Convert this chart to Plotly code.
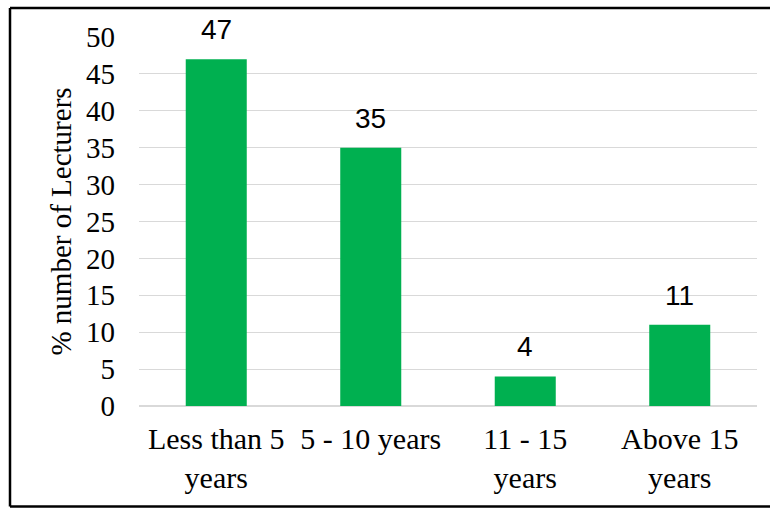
import plotly.graph_objects as go

categories = ["Less than 5<br>years", "5 - 10 years", "11 - 15<br>years", "Above 15<br>years"]
values = [47, 35, 4, 11]
y_ticks = [0, 5, 10, 15, 20, 25, 30, 35, 40, 45, 50]

W, H = 770, 508
ml, mr, mt, mb = 139, 13, 37, 102
pw, ph = W - ml - mr, H - mt - mb

fig = go.Figure()
fig.add_trace(go.Bar(x=categories, y=values, marker=dict(color="#00B050", line=dict(width=0)),
                     hoverinfo="skip"))

for c, v in zip(categories, values):
    fig.add_annotation(x=c, y=v, text=str(v), showarrow=False, yanchor="bottom",
                       yshift=12, font=dict(family="Liberation Sans Narrow, Arial Narrow, sans-serif",
                                            size=28, color="#000000"))

def px_x(p):
    return (p - ml) / pw

def px_y(p):
    return 1 - (p - mt) / ph

border = dict(color="#000000", width=2.5)
L, R, T, B = px_x(10), px_x(790), px_y(8), px_y(506.5)
for x0, y0, x1, y1 in [(L, T, R, T), (L, T, L, B), (L, B, R, B)]:
    fig.add_shape(type="line", xref="paper", yref="paper", x0=x0, y0=y0, x1=x1, y1=y1,
                  line=border, layer="above")

fig.update_layout(
    width=W, height=H,
    margin=dict(l=ml, r=mr, t=mt, b=mb),
    paper_bgcolor="white", plot_bgcolor="white",
    bargap=0.605,
    showlegend=False,
    font=dict(family="Liberation Serif, Times New Roman, serif", size=30, color="#000000"),
    xaxis=dict(showline=False, ticks="", showgrid=False, zeroline=False,
               tickfont=dict(size=30), ticklabelstandoff=12),
    yaxis=dict(range=[0, 50], tickvals=y_ticks, showgrid=True, gridcolor="#D9D9D9", gridwidth=1.3,
               zeroline=True, zerolinecolor="#D9D9D9", zerolinewidth=1.5,
               showline=False, ticks="", tickfont=dict(size=29), ticklabelstandoff=23,
               title=dict(text="% number of Lecturers", font=dict(size=29), standoff=5)),
)

fig.write_html("out.html", config={"displayModeBar": False},
               post_script="document.body.style.margin='0';document.body.style.overflow='hidden';")
